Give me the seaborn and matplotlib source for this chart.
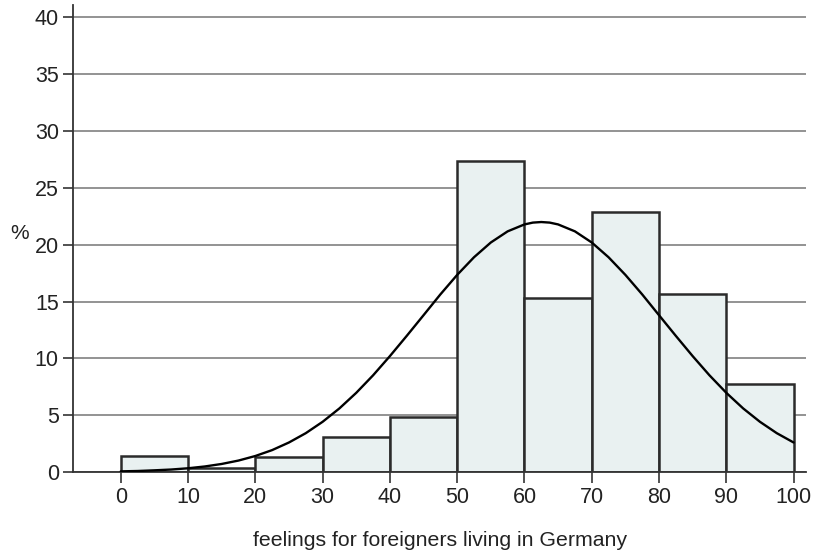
import numpy as np
import matplotlib
matplotlib.use("Agg")
import matplotlib.pyplot as plt
import seaborn as sns

# bin edges and bar heights (percent)
bin_edges = [0, 10, 20, 30, 40, 50, 60, 70, 80, 90, 100]
bar_pct = [1.4, 0.35, 1.3, 3.1, 4.8, 27.4, 15.3, 22.9, 15.7, 7.75]

# fitted normal curve, read every 2.5 units
curve_x = [0, 2.5, 5, 7.5, 10, 12.5, 15, 17.5, 20, 22.5, 25, 27.5, 30, 32.5,
           35, 37.5, 40, 42.5, 45, 47.5, 50, 52.5, 55, 57.5, 60, 61.25, 62.5,
           63.75, 65, 67.5, 70, 72.5, 75, 77.5, 80, 82.5, 85, 87.5, 90, 92.5,
           95, 97.5, 100]
curve_y = [0.06, 0.09, 0.15, 0.22, 0.33, 0.49, 0.71, 1.01, 1.41, 1.93, 2.6,
           3.42, 4.42, 5.6, 6.97, 8.51, 10.2, 11.98, 13.8, 15.63, 17.35, 18.9,
           20.2, 21.18, 21.79, 21.95, 22.0, 21.95, 21.79, 21.18, 20.2, 18.9,
           17.35, 15.63, 13.8, 11.98, 10.2, 8.51, 6.97, 5.6, 4.42, 3.42, 2.6]

x_ticks = [0, 10, 20, 30, 40, 50, 60, 70, 80, 90, 100]
y_ticks = [0, 5, 10, 15, 20, 25, 30, 35, 40]

sns.set_style("white")
plt.rcParams['font.family'] = ['Liberation Sans', 'DejaVu Sans']

fig = plt.figure(figsize=(8.17, 5.55), dpi=100)
ax = fig.add_axes([0.089, 0.1495, 0.898, 0.8415])

centers = [(a + b) / 2 for a, b in zip(bin_edges[:-1], bin_edges[1:])]
sns.histplot(x=centers, weights=bar_pct, bins=bin_edges, stat='count',
             color='#e9f1f1', edgecolor='#2b2b2b', linewidth=1.8, alpha=1,
             ax=ax, zorder=2)
sns.lineplot(x=curve_x, y=curve_y, color='black', linewidth=1.7, ax=ax, zorder=3)

ax.set_xlim(-7.14, 101.9)
ax.set_ylim(0, 41.1)
ax.set_xticks(x_ticks)
ax.set_yticks(y_ticks)
ax.yaxis.grid(True, color='#8a8a8a', linewidth=1.3)
ax.set_axisbelow(True)
for s in ['top', 'right']:
    ax.spines[s].set_visible(False)
for s in ['left', 'bottom']:
    ax.spines[s].set_color('#333333')
    ax.spines[s].set_linewidth(1.3)
ax.tick_params(axis='both', direction='out', length=7, width=1.2,
               color='#333333', labelsize=15.5, labelcolor='#222222', pad=3,
               bottom=True, left=True)
ax.tick_params(axis='x', length=8)

ax.set_xlabel('feelings for foreigners living in Germany', fontsize=15.3,
              color='#222222', labelpad=16)
ax.set_ylabel('%', fontsize=15, rotation=0, color='#222222')
ax.yaxis.set_label_coords(-0.072, 0.49)

fig.savefig('out.png', dpi=100)
